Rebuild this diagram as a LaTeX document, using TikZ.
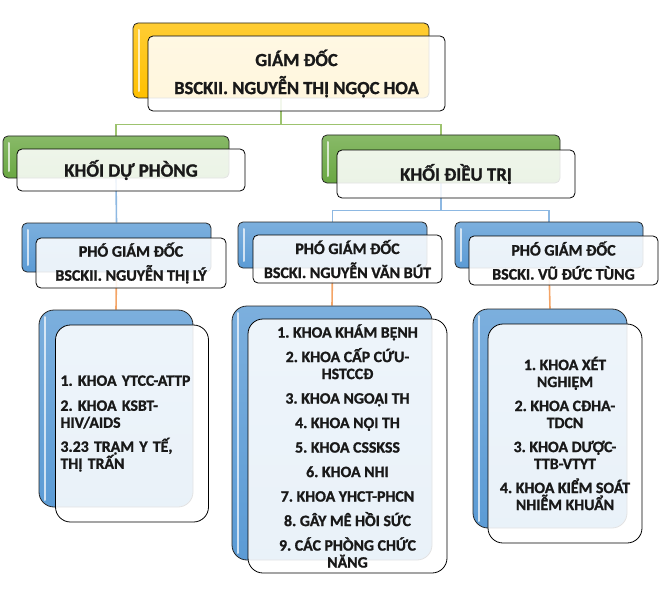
\documentclass[tikz,border=0pt]{standalone}
\usepackage{fontspec}
\setmainfont{Carlito}[BoldFont={Carlito Bold}, BoldFeatures={FakeBold=1.2}]
\usetikzlibrary{backgrounds}
\frenchspacing

\definecolor{gdgold}{HTML}{FFC000}
\definecolor{khgreen}{HTML}{6AA842}
\definecolor{pgblue}{HTML}{5B9BD5}
\definecolor{lkgreen}{HTML}{9DC36F}
\definecolor{lkblue}{HTML}{8DB8E2}
\definecolor{lkorange}{HTML}{F4A466}

\tikzset{
  backbox/.style={draw=black!85, line width=0.8pt, rounded corners=5pt,
    top color=#1!80!white, bottom color=#1,
    path picture={\draw[white, opacity=.7, line width=2pt, line cap=round]
      ([xshift=6pt,yshift=-7pt]path picture bounding box.north west) --
      ([xshift=6pt,yshift=7pt]path picture bounding box.south west);}},
  frontbox/.style={draw=black, line width=0.8pt, rounded corners=5pt,
    fill=white, fill opacity=0.87, text opacity=1, text=black!90,
    font=\bfseries, align=center, inner sep=2pt},
  link/.style={line width=1.6pt, draw=#1},
}

\begin{document}
\begin{tikzpicture}[x=1pt, y=-1pt]
	\useasboundingbox (0,0) rectangle (661,599);
	
	% giam doc
	\node[backbox=gdgold, minimum width=296, minimum height=75] (gdB) at (281,60.5) {};
	\node[frontbox, minimum width=297, minimum height=75, font=\bfseries\fontsize{18.5}{20}\selectfont] (gd) at (296.5,73.5)
		{GIÁM ĐỐC\\[8pt]BSCKII. NGUYỄN THỊ NGỌC HOA};
	
	% khoi
	\node[backbox=khgreen, minimum width=226, minimum height=42] (dpB) at (116,157) {};
	\node[frontbox, minimum width=228, minimum height=42, font=\bfseries\fontsize{18.8}{21}\selectfont] (dp) at (131,170) {KHỐI DỰ PHÒNG};
	\node[backbox=khgreen, minimum width=238, minimum height=48] (dtB) at (441,159) {};
	\node[frontbox, minimum width=238, minimum height=48, font=\bfseries\fontsize{18.8}{21}\selectfont] (dt) at (456,174) {KHỐI ĐIỀU TRỊ};
	
	% pho giam doc
	\node[backbox=pgblue, minimum width=189, minimum height=49] (plB) at (116.5,247.5) {};
	\node[frontbox, minimum width=190, minimum height=50, font=\bfseries\fontsize{16}{18}\selectfont] (pl) at (131,263)
		{PHÓ GIÁM ĐỐC\\[6pt]BSCKII. NGUYỄN THỊ LÝ};
	\node[backbox=pgblue, minimum width=189, minimum height=46] (pmB) at (332.5,245) {};
	\node[frontbox, minimum width=189, minimum height=48, font=\bfseries\fontsize{16}{18}\selectfont] (pm) at (347.5,259)
		{PHÓ GIÁM ĐỐC\\[6pt]BSCKI. NGUYỄN VĂN BÚT};
	\node[backbox=pgblue, minimum width=188, minimum height=46] (prB) at (549,245) {};
	\node[frontbox, minimum width=189, minimum height=49, font=\bfseries\fontsize{16}{18}\selectfont] (pr) at (563.5,260.5)
		{PHÓ GIÁM ĐỐC\\[6pt]BSCKI. VŨ ĐỨC TÙNG};
	
	% danh sach khoa
	\node[backbox=pgblue, rounded corners=15pt, minimum width=154, minimum height=197] (llB) at (116,408.5) {};
	\node[frontbox, rounded corners=15pt, minimum width=153, minimum height=197, text width=143, align=left,
		font=\bfseries\fontsize{15.8}{17}\selectfont] (ll) at (132,423.5)
		{1. KHOA YTCC-ATTP\\[8pt]2. KHOA KSBT-\\HIV/AIDS\\[7pt]3.23 TRẠM Y TẾ,\\THỊ TRẤN\\[30pt]};
	\node[backbox=pgblue, rounded corners=15pt, minimum width=200, minimum height=254] (lmB) at (332,433) {};
	\node[frontbox, rounded corners=15pt, minimum width=199, minimum height=254,
		font=\bfseries\fontsize{15.8}{17}\selectfont] (lm) at (347.5,446)
		{1. KHOA KHÁM BỆNH\\[7.5pt]2. KHOA CẤP CỨU-\\HSTCCĐ\\[7.5pt]3. KHOA NGOẠI TH\\[7.5pt]4. KHOA NỘI TH\\[7.5pt]5. KHOA CSSKSS\\[7.5pt]6. KHOA NHI\\[7.5pt]7. KHOA YHCT-PHCN\\[7.5pt]8. GÂY MÊ HỒI SỨC\\[7.5pt]9. CÁC PHÒNG CHỨC\\NĂNG};
	\node[backbox=pgblue, rounded corners=15pt, minimum width=154, minimum height=219] (lrB) at (550,418.5) {};
	\node[frontbox, rounded corners=15pt, minimum width=154, minimum height=219,
		font=\bfseries\fontsize{15.8}{17}\selectfont] (lr) at (565,433.5)
		{1. KHOA XÉT\\NGHIỆM\\[7pt]2. KHOA CĐHA-\\TDCN\\[7pt]3. KHOA DƯỢC-\\TTB-VTYT\\[7pt]4. KHOA KIỂM SOÁT\\NHIỄM KHUẨN};
	
	% duong noi
	\begin{scope}[on background layer]
		\draw[link=lkgreen] (gdB.south) -- ++(0,26) coordinate (gj);
		\draw[link=lkgreen] (gj) -| (dpB.north);
		\draw[link=lkgreen] (gj) -| (dtB.north);
		\draw[link=lkblue] (dpB.south) -- (plB.north);
		\draw[link=lkblue] (dtB.south) -- ++(0,27) coordinate (bj);
		\draw[link=lkblue] (bj) -| (pmB.north);
		\draw[link=lkblue] (bj) -| (prB.north);
		\draw[link=lkorange] (plB.south) -- (llB.north);
		\draw[link=lkorange] (pmB.south) -- (lmB.north);
		\draw[link=lkorange] (prB.south) -- (lrB.north);
	\end{scope}
\end{tikzpicture}
\end{document}
